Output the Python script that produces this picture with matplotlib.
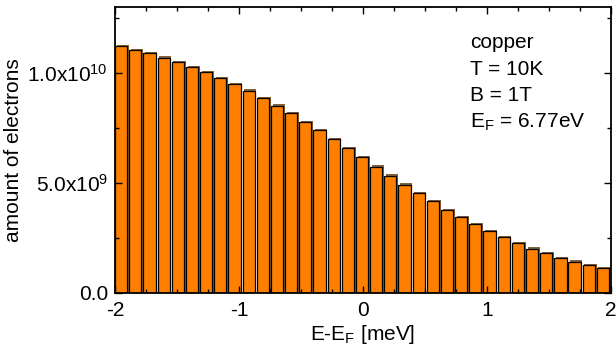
import numpy as np
import matplotlib
matplotlib.use("Agg")
import matplotlib.pyplot as plt
import matplotlib.patheffects as pe
from matplotlib.ticker import FixedLocator, MultipleLocator, FixedFormatter

plt.rcParams['font.family'] = ['Liberation Sans', 'DejaVu Sans']
plt.rcParams['mathtext.fontset'] = 'custom'
plt.rcParams['mathtext.rm'] = 'Liberation Sans'
plt.rcParams['mathtext.it'] = 'Liberation Sans'
plt.rcParams['mathtext.bf'] = 'Liberation Sans'

# data
energy_min = -2.0
energy_max = 2.0
n_bins = 35
electrons_1e9 = [11.22, 11.06, 10.90, 10.70, 10.50, 10.29, 10.05, 9.79, 9.51, 9.20,
                 8.87, 8.52, 8.16, 7.78, 7.40, 6.99, 6.58, 6.16, 5.75, 5.34,
                 4.93, 4.55, 4.16, 3.79, 3.44, 3.12, 2.80, 2.53, 2.27, 2.02,
                 1.81, 1.60, 1.43, 1.26, 1.13]
x_ticks = [-2, -1, 0, 1, 2]
x_ticklabels = ['-2', '-1', '0', '1', '2']
y_ticks = [0, 5e9, 1e10]
y_ticklabels = ['0.0', r'5.0x10$^{9}$', r'1.0x10$^{10}$']
info_lines = ['copper', 'T = 10K', 'B = 1T', r'E$_\mathrm{F}$ = 6.77eV']

edges = np.linspace(energy_min, energy_max, n_bins + 1)
step = edges[1] - edges[0]
values = np.array(electrons_1e9) * 1e9

fig = plt.figure(figsize=(6.16, 3.52), dpi=100)
ax = fig.add_axes([115/616, 1 - 293/352, 496/616, 286/352])

bars = ax.bar(edges[:-1], values, width=step * 0.86, align='edge',
              color='#FF8000', edgecolor='black', linewidth=0.9)
for b in bars:
    b.set_path_effects([pe.SimplePatchShadow(offset=(1.2, 0.8), shadow_rgbFace='#5a2d00', alpha=0.75),
                        pe.Normal()])

ax.set_xlim(energy_min, energy_max)
ax.set_ylim(0, 1.3e10)

ax.xaxis.set_major_locator(FixedLocator(x_ticks))
ax.xaxis.set_major_formatter(FixedFormatter(x_ticklabels))
ax.xaxis.set_minor_locator(MultipleLocator(0.25))
ax.yaxis.set_major_locator(FixedLocator(y_ticks))
ax.yaxis.set_major_formatter(FixedFormatter(y_ticklabels))
ax.yaxis.set_minor_locator(MultipleLocator(2.5e9))

ax.tick_params(which='both', direction='in', top=True, right=True, labelsize=15, width=1)
ax.tick_params(which='major', length=5)
ax.tick_params(axis='x', which='major', pad=6)
ax.tick_params(axis='y', which='major', pad=5)
ax.tick_params(which='minor', length=3)
for s in ax.spines.values():
    s.set_linewidth(1.3)

ax.set_xlabel(r'E-E$_\mathrm{F}$ [meV]', fontsize=15, labelpad=2)
ax.set_ylabel('amount of electrons', fontsize=15, labelpad=3)

ys = [0.855, 0.762, 0.670, 0.577]
for t, y in zip(info_lines, ys):
    ax.text(0.716, y, t, transform=ax.transAxes, fontsize=15, va='baseline', ha='left')

fig.savefig('out.png', dpi=100)
